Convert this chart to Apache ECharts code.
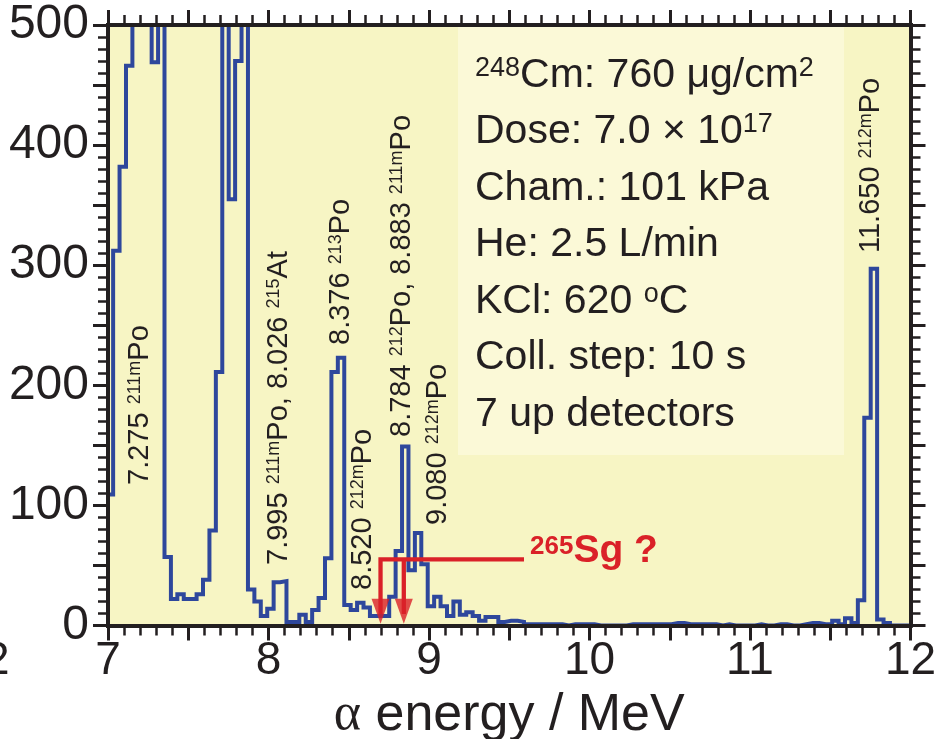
<!DOCTYPE html>
<html>
<head>
<meta charset="utf-8">
<script src="https://cdn.jsdelivr.net/npm/echarts@6.0.0/dist/echarts.min.js"></script>
<style>
html, body { margin: 0; padding: 0; background: #ffffff; }
#chart { width: 942px; height: 739px; }
</style>
</head>
<body>
<div id="chart"></div>
<script>
// ---------------- data ----------------
// histogram: bin left edges = binStart + k * binWidth (MeV)
const binStart = 6.992;
const binWidth = 0.04;
// counts per bin (values above 500 run off the top of the axis)
const counts = [
  109, 312, 382, 466, 620, 620, 620, 469, 620, 57,
  22, 26, 22, 22, 26, 38, 79, 211, 620, 355,
  470, 620, 30, 20, 8, 14, 36, 37, 3, 3,
  9, 3, 13, 23, 56, 211, 223, 17, 13, 19,
  15, 8, 8, 8, 24, 62, 149, 46, 77, 51,
  16, 24, 16, 8, 20, 9, 11, 8, 4, 7,
  7, 3, 4, 4, 3, 1, 1, 1, 1, 1,
  1, 0, 1, 1, 1, 1, 0, 0, 0, 0,
  0, 1, 1, 1, 1, 1, 1, 1, 2, 2,
  1, 1, 1, 1, 1, 0, 1, 0, 0, 0,
  0, 1, 0, 0, 1, 1, 0, 0, 1, 2,
  2, 1, 1, 4, 1, 6, 2, 21, 173, 297,
  5, 2, 0, 0, 0, 0
];
const xTickLabels = [7, 8, 9, 10, 11, 12];
const yTickLabels = [0, 100, 200, 300, 400, 500];

// 265Sg expected-energy markers
const sgArrowEnergies = [8.698, 8.843];
const sgLevel = 55;
const sgLineEnd = 9.592;
const sgArrowTip = 1.5;
const sgLabel = [['a', '265'], ['b', 'Sg ?']];

// peak annotations (token kind: n = normal, s = superscript)
const peakLabels = [
  [['n', '7.275 '], ['s', '211m'], ['n', 'Po']],
  [['n', '7.995 '], ['s', '211m'], ['n', 'Po, 8.026 '], ['s', '215'], ['n', 'At']],
  [['n', '8.376 '], ['s', '213'], ['n', 'Po']],
  [['n', '8.520 '], ['s', '212m'], ['n', 'Po']],
  [['n', '8.784 '], ['s', '212'], ['n', 'Po, 8.883 '], ['s', '211m'], ['n', 'Po']],
  [['n', '9.080 '], ['s', '212m'], ['n', 'Po']],
  [['n', '11.650 '], ['s', '212m'], ['n', 'Po']]
];

// experimental conditions box
const infoLines = [
  [['s', '248'], ['n', 'Cm: 760 μg/cm'], ['s', '2']],
  [['n', 'Dose: 7.0 × 10'], ['s', '17']],
  [['n', 'Cham.: 101 kPa']],
  [['n', 'He: 2.5 L/min']],
  [['n', 'KCl: 620 '], ['s', 'o'], ['n', 'C']],
  [['n', 'Coll. step: 10 s']],
  [['n', '7 up detectors']]
];

// ---------------- chart ----------------
const FONT = '"Liberation Sans", Arial, Helvetica, sans-serif';
const INK = '#231f20';
const BLUE = '#2e479c';
const RED = '#da2128';

const histData = counts.map((c, k) => [binStart + k * binWidth, c]);
histData.push([binStart + counts.length * binWidth, counts[counts.length - 1]]);

const toRich = parts => parts.map(p => '{' + p[0] + '|' + p[1] + '}').join('');

const axisCommon = {
  type: 'value',
  z: 4,
  axisLine: { show: true, onZero: false, lineStyle: { color: INK, width: 4, cap: 'square' } },
  axisTick: { show: true, inside: false, length: 15, lineStyle: { color: INK, width: 3 } },
  minorTick: { show: true, splitNumber: 5, length: 10, lineStyle: { color: INK, width: 2.5 } },
  splitLine: { show: false },
  minorSplitLine: { show: false }
};

const labelRich = {
  n: { fontSize: 29, lineHeight: 29, fontFamily: FONT, fill: INK },
  s: { fontSize: 18, lineHeight: 20, fontFamily: FONT, fill: INK, verticalAlign: 'top', padding: [1, 0, 0, 0] }
};
const labelPos = [
  [139.5, 485], [279, 565], [341, 345], [363, 590], [401.5, 437], [437.5, 525], [871, 253]
];

const graphics = [
  { type: 'rect', silent: true, z: 1,
    shape: { x: 458, y: 27, width: 386, height: 428 },
    style: { fill: '#fbf9d7' } },
  { type: 'text', silent: true, z: 10, x: 475, y: 47,
    style: {
      text: infoLines.map(toRich).join('\n'),
      align: 'left', verticalAlign: 'top',
      fill: INK, fontFamily: FONT, fontSize: 41,
      rich: {
        n: { fontSize: 41, lineHeight: 56.5, fontFamily: FONT, fill: INK },
        s: { fontSize: 27, lineHeight: 40, fontFamily: FONT, fill: INK, verticalAlign: 'top', padding: [8, 0, 0, 0] }
      }
    } },
  { type: 'text', silent: true, z: 10, x: 530, y: 551,
    style: {
      text: toRich(sgLabel),
      align: 'left', verticalAlign: 'middle', fill: RED,
      rich: {
        a: { fontSize: 26, lineHeight: 26, fontWeight: 'bold', fontFamily: FONT, fill: RED, verticalAlign: 'top', padding: [2, 0, 0, 0] },
        b: { fontSize: 39, lineHeight: 39, fontWeight: 'bold', fontFamily: FONT, fill: RED }
      }
    } },
  { type: 'text', silent: true, z: 10, x: -16, y: 661,
    style: { text: '2', fontSize: 46, fontFamily: FONT, fill: INK, align: 'left', verticalAlign: 'middle' } }
];
peakLabels.forEach((parts, i) => {
  graphics.push({
    type: 'text', silent: true, z: 10,
    x: labelPos[i][0], y: labelPos[i][1], rotation: Math.PI / 2,
    style: { text: toRich(parts), align: 'left', verticalAlign: 'middle', fill: INK, fontFamily: FONT, fontSize: 29, rich: labelRich }
  });
});

const chart = echarts.init(document.getElementById('chart'), null, { renderer: 'canvas' });
chart.setOption({
  animation: false,
  backgroundColor: '#ffffff',
  grid: {
    left: 108, right: 31.5, top: 25, bottom: 113.5,
    show: true, backgroundColor: '#f7f5c4', borderWidth: 0,
    containLabel: false, outerBoundsMode: 'none'
  },
  xAxis: [
    Object.assign({}, axisCommon, {
      position: 'bottom', min: 7, max: 12, interval: 0.5,
      axisLabel: {
        show: true, margin: 13, fontSize: 46, color: INK, fontFamily: FONT,
        formatter: v => (xTickLabels.indexOf(v) >= 0 ? String(v) : '')
      },
      name: '{a|α} energy / MeV',
      nameLocation: 'middle', nameGap: 62,
      nameTextStyle: {
        fontSize: 52, color: INK, fontFamily: FONT,
        rich: { a: { fontSize: 52, color: INK, fontFamily: '"Liberation Serif", "DejaVu Serif", serif' } }
      }
    }),
    Object.assign({}, axisCommon, {
      position: 'top', min: 7, max: 12, interval: 0.5,
      axisLabel: { show: false }
    })
  ],
  yAxis: [
    Object.assign({}, axisCommon, {
      position: 'left', min: 0, max: 500, interval: 50,
      axisLabel: {
        show: true, margin: 19, fontSize: 48, color: INK, fontFamily: FONT,
        formatter: v => (yTickLabels.indexOf(v) >= 0 ? String(v) : '')
      }
    }),
    Object.assign({}, axisCommon, {
      position: 'right', min: 0, max: 500, interval: 50,
      axisLabel: { show: false }
    })
  ],
  graphic: graphics,
  series: [
    {
      name: 'alpha spectrum', type: 'line', step: 'end',
      data: histData, symbol: 'none', showSymbol: false, clip: true, z: 2,
      lineStyle: { color: BLUE, width: 4, join: 'miter', cap: 'butt' },
      emphasis: { disabled: true }
    },
    {
      name: 'Sg marker 1', type: 'line', symbol: 'none', showSymbol: false, z: 3,
      data: [[sgLineEnd, sgLevel], [sgArrowEnergies[0], sgLevel], [sgArrowEnergies[0], sgArrowTip + 8]],
      lineStyle: { color: RED, width: 4.3, join: 'miter' },
      emphasis: { disabled: true }
    },
    {
      name: 'Sg marker 2', type: 'line', symbol: 'none', showSymbol: false, z: 3,
      data: [[sgArrowEnergies[1], sgLevel], [sgArrowEnergies[1], sgArrowTip + 8]],
      lineStyle: { color: RED, width: 4.3 },
      emphasis: { disabled: true }
    },
    {
      name: 'Sg arrows', type: 'scatter', z: 3,
      data: sgArrowEnergies.map(e => [e, sgArrowTip]),
      symbol: 'path://M0,0L20,0L10,28Z', symbolSize: [18, 25], symbolOffset: [0, '-50%'],
      itemStyle: { color: RED },
      emphasis: { disabled: true }
    }
  ]
});
</script>
</body>
</html>
